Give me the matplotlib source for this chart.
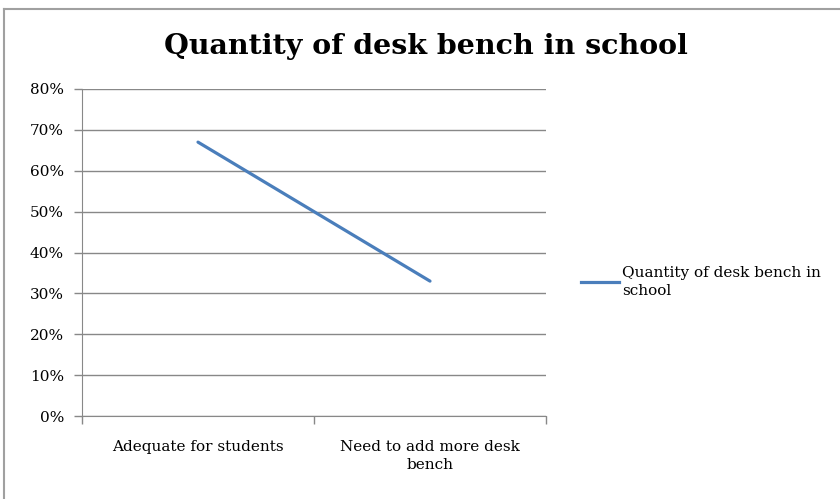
import numpy as np
import matplotlib
matplotlib.use('Agg')
import matplotlib.pyplot as plt
from matplotlib.ticker import PercentFormatter
from matplotlib.lines import Line2D

categories = ['Adequate for students', 'Need to add more desk\nbench']
values = [0.67, 0.33]
series_name = 'Quantity of desk bench in\nschool'
title = 'Quantity of desk bench in school'

plt.rcParams['font.family'] = ['DejaVu Serif']

line_color = '#4A7EBB'
axis_color = '#888888'
label_size = 11

fig = plt.figure(figsize=(8.4, 4.99), dpi=100)
W, H = 840, 499
ax = fig.add_axes([82 / W, 1 - 416 / H, (546 - 82) / W, (416 - 89) / H])

x = np.arange(len(categories)) + 0.5
ax.plot(x, values, color=line_color, lw=2.3, solid_capstyle='round', label=series_name)

ax.set_xlim(0, len(categories))
ax.set_ylim(0, 0.8)
ax.set_yticks(np.arange(0, 0.81, 0.1))
ax.yaxis.set_major_formatter(PercentFormatter(xmax=1, decimals=0))
ax.yaxis.grid(True, color=axis_color, lw=1)
ax.set_axisbelow(True)

# category labels sit between the boundary ticks
ax.set_xticks(np.arange(len(categories) + 1))
ax.set_xticklabels([])
for xi, lab in zip(x, categories):
    ax.text(xi, -0.072, lab, ha='center', va='top', fontsize=label_size,
            transform=ax.get_xaxis_transform(), linespacing=1.45)

for side in ['top', 'right']:
    ax.spines[side].set_visible(False)
for side in ['left', 'bottom']:
    ax.spines[side].set_color(axis_color)
ax.tick_params(axis='both', colors=axis_color, length=6, width=1, labelcolor='black')
ax.tick_params(axis='y', labelsize=label_size, pad=7)

fig.text(426 / W, 1 - 47 / H, title, ha='center', va='center', fontsize=20.5, fontweight='bold')

leg = fig.legend(handles=[Line2D([], [], color=line_color, lw=2.3)], labels=[series_name],
                 loc='center left', bbox_to_anchor=(573 / W, 1 - 282 / H), frameon=False,
                 fontsize=label_size, handlelength=2.5, handletextpad=0.2, borderpad=0,
                 labelspacing=0)
for t in leg.get_texts():
    t.set_linespacing(1.45)

# outer chart border (top and left edges)
fig.add_artist(Line2D([4 / W, 1], [1 - 9 / H, 1 - 9 / H], color='#A0A0A0', lw=1.5,
                      transform=fig.transFigure))
fig.add_artist(Line2D([4 / W, 4 / W], [0, 1 - 9 / H], color='#A0A0A0', lw=1.5,
                      transform=fig.transFigure))

fig.savefig('out.png', dpi=100)
